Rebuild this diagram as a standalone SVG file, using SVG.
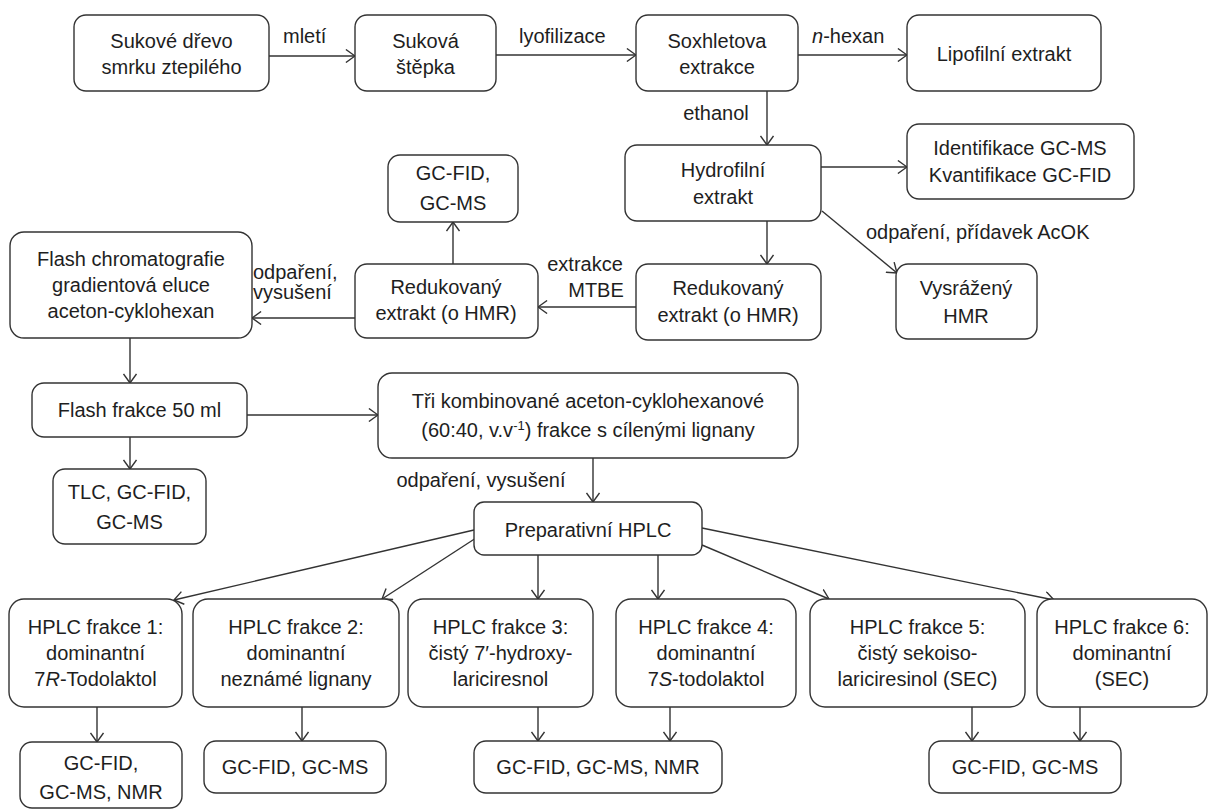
<svg xmlns="http://www.w3.org/2000/svg" width="1209" height="810" viewBox="0 0 1209 810">
<style>
.b{fill:#fff;stroke:#333;stroke-width:1.4}
.t{font-family:"Liberation Sans",Arial,sans-serif;font-size:20px;fill:#1e1e1e;text-anchor:middle}
.l{font-family:"Liberation Sans",Arial,sans-serif;font-size:20px;fill:#1e1e1e}
.c{stroke:#333;stroke-width:1.4;fill:none;marker-end:url(#a)}
</style>
<defs>
<marker id="a" viewBox="0 0 10 14" refX="9.6" refY="7" markerWidth="10" markerHeight="14" markerUnits="userSpaceOnUse" orient="auto">
<path d="M0.5,0.5 L9.6,7 L0.5,13.5" fill="none" stroke="#333" stroke-width="1.4"/>
</marker>
</defs>
<rect width="1209" height="810" fill="#fff"/>
<g id="connectors">
<line class="c" x1="269" y1="56" x2="355" y2="56"/>
<line class="c" x1="496" y1="55" x2="636" y2="55"/>
<line class="c" x1="798" y1="55" x2="907" y2="55"/>
<line class="c" x1="767" y1="91" x2="767" y2="145"/>
<line class="c" x1="821" y1="167" x2="907" y2="167"/>
<line class="c" x1="767" y1="221" x2="767" y2="264"/>
<line class="c" x1="822" y1="211" x2="897" y2="273"/>
<line class="c" x1="636" y1="307" x2="538" y2="307"/>
<line class="c" x1="453" y1="264" x2="453" y2="222"/>
<line class="c" x1="355" y1="318" x2="252" y2="318"/>
<line class="c" x1="130" y1="338" x2="130" y2="383"/>
<line class="c" x1="130" y1="437" x2="130" y2="469"/>
<line class="c" x1="247" y1="415" x2="378" y2="415"/>
<line class="c" x1="593" y1="458" x2="593" y2="502"/>
<line class="c" x1="474" y1="530" x2="174" y2="600"/>
<line class="c" x1="476" y1="538" x2="382" y2="599"/>
<line class="c" x1="538" y1="555" x2="538" y2="599"/>
<line class="c" x1="658" y1="555" x2="658" y2="599"/>
<line class="c" x1="702" y1="545" x2="829" y2="599"/>
<line class="c" x1="702" y1="528" x2="1054" y2="600"/>
<line class="c" x1="97" y1="707" x2="97" y2="742"/>
<line class="c" x1="302" y1="707" x2="302" y2="741"/>
<line class="c" x1="538" y1="707" x2="538" y2="741"/>
<line class="c" x1="670" y1="707" x2="670" y2="741"/>
<line class="c" x1="972" y1="707" x2="972" y2="741"/>
<line class="c" x1="1080" y1="707" x2="1080" y2="741"/>
<text class="l" x="283" y="43">mletí</text>
<text class="l" x="519" y="43">lyofilizace</text>
<text class="l" x="812" y="43"><tspan font-style="italic">n</tspan>-hexan</text>
<text class="t" x="716" y="120">ethanol</text>
<text class="l" x="866" y="239">odpaření, přídavek AcOK</text>
<text class="t" x="585" y="271">extrakce</text>
<text class="t" x="596" y="297">MTBE</text>
<text class="l" x="253" y="279">odpaření,</text>
<text class="l" x="253" y="299">vysušení</text>
<text class="t" x="481" y="487">odpaření, vysušení</text>
</g>
<g id="n1"><rect class="b" x="74" y="15" width="195" height="76" rx="12"/><text class="t" x="171.5" y="48">Sukové dřevo</text><text class="t" x="171.5" y="74">smrku ztepilého</text></g>
<g id="n2"><rect class="b" x="355" y="15" width="141" height="76" rx="12"/><text class="t" x="425.5" y="48">Suková</text><text class="t" x="425.5" y="74">štěpka</text></g>
<g id="n3"><rect class="b" x="636" y="15" width="162" height="76" rx="12"/><text class="t" x="717" y="48">Soxhletova</text><text class="t" x="717" y="74">extrakce</text></g>
<g id="n4"><rect class="b" x="907" y="15" width="194" height="76" rx="12"/><text class="t" x="1004" y="61">Lipofilní extrakt</text></g>
<g id="n5"><rect class="b" x="625" y="145" width="196" height="76" rx="12"/><text class="t" x="723" y="177">Hydrofilní</text><text class="t" x="723" y="204">extrakt</text></g>
<g id="n6"><rect class="b" x="907" y="124" width="227" height="75" rx="12"/><text class="t" x="1020" y="155">Identifikace GC-MS</text><text class="t" x="1020" y="182">Kvantifikace GC-FID</text></g>
<g id="n7"><rect class="b" x="388" y="155" width="130" height="67" rx="12"/><text class="t" x="453" y="180">GC-FID,</text><text class="t" x="453" y="210">GC-MS</text></g>
<g id="n8"><rect class="b" x="636" y="264" width="185" height="76" rx="12"/><text class="t" x="728" y="295">Redukovaný</text><text class="t" x="728" y="322">extrakt (o HMR)</text></g>
<g id="n9"><rect class="b" x="896" y="264" width="141" height="75" rx="12"/><text class="t" x="966" y="295">Vysrážený</text><text class="t" x="966" y="323">HMR</text></g>
<g id="n10"><rect class="b" x="355" y="264" width="183" height="74" rx="12"/><text class="t" x="446" y="294">Redukovaný</text><text class="t" x="446" y="320">extrakt (o HMR)</text></g>
<g id="n11"><rect class="b" x="10" y="232" width="242" height="106" rx="14"/><text class="t" x="131" y="266">Flash chromatografie</text><text class="t" x="131" y="292">gradientová eluce</text><text class="t" x="131" y="318">aceton-cyklohexan</text></g>
<g id="n12"><rect class="b" x="32" y="383" width="215" height="54" rx="12"/><text class="t" x="139.5" y="417">Flash frakce 50 ml</text></g>
<g id="n13"><rect class="b" x="378" y="373" width="420" height="85" rx="14"/><text class="t" x="588" y="408">Tři kombinované aceton-cyklohexanové</text><text class="t" x="588" y="437">(60:40, v.v<tspan font-size="13" dy="-7">-1</tspan><tspan dy="7">) frakce s cílenými lignany</tspan></text></g>
<g id="n14"><rect class="b" x="53" y="469" width="153" height="75" rx="12"/><text class="t" x="129.5" y="499">TLC, GC-FID,</text><text class="t" x="129.5" y="529">GC-MS</text></g>
<g id="n15"><rect class="b" x="474" y="502" width="228" height="53" rx="10"/><text class="t" x="588" y="537">Preparativní HPLC</text></g>
<g id="n16"><rect class="b" x="9" y="599" width="173" height="108" rx="15"/><text class="t" x="95.5" y="634">HPLC frakce 1:</text><text class="t" x="95.5" y="660">dominantní</text><text class="t" x="95.5" y="686">7<tspan font-style="italic">R</tspan>-Todolaktol</text></g>
<g id="n17"><rect class="b" x="193" y="599" width="206" height="108" rx="15"/><text class="t" x="296" y="634">HPLC frakce 2:</text><text class="t" x="296" y="660">dominantní</text><text class="t" x="296" y="686">neznámé lignany</text></g>
<g id="n18"><rect class="b" x="408" y="599" width="185" height="108" rx="15"/><text class="t" x="500.5" y="634">HPLC frakce 3:</text><text class="t" x="500.5" y="660">čistý 7′-hydroxy-</text><text class="t" x="500.5" y="686">lariciresnol</text></g>
<g id="n19"><rect class="b" x="616" y="599" width="180" height="108" rx="15"/><text class="t" x="706" y="634">HPLC frakce 4:</text><text class="t" x="706" y="660">dominantní</text><text class="t" x="706" y="686">7<tspan font-style="italic">S</tspan>-todolaktol</text></g>
<g id="n20"><rect class="b" x="810" y="599" width="215" height="108" rx="15"/><text class="t" x="917.5" y="634">HPLC frakce 5:</text><text class="t" x="917.5" y="660">čistý sekoiso-</text><text class="t" x="917.5" y="686">lariciresinol (SEC)</text></g>
<g id="n21"><rect class="b" x="1037" y="599" width="170" height="108" rx="15"/><text class="t" x="1122" y="634">HPLC frakce 6:</text><text class="t" x="1122" y="660">dominantní</text><text class="t" x="1122" y="686">(SEC)</text></g>
<g id="n22"><rect class="b" x="20" y="742" width="162" height="66" rx="12"/><text class="t" x="101" y="770">GC-FID,</text><text class="t" x="101" y="799">GC-MS, NMR</text></g>
<g id="n23"><rect class="b" x="204" y="741" width="182" height="52" rx="12"/><text class="t" x="295" y="774">GC-FID, GC-MS</text></g>
<g id="n24"><rect class="b" x="474" y="741" width="248" height="52" rx="12"/><text class="t" x="598" y="774">GC-FID, GC-MS, NMR</text></g>
<g id="n25"><rect class="b" x="929" y="741" width="192" height="52" rx="12"/><text class="t" x="1025" y="774">GC-FID, GC-MS</text></g>
</svg>
